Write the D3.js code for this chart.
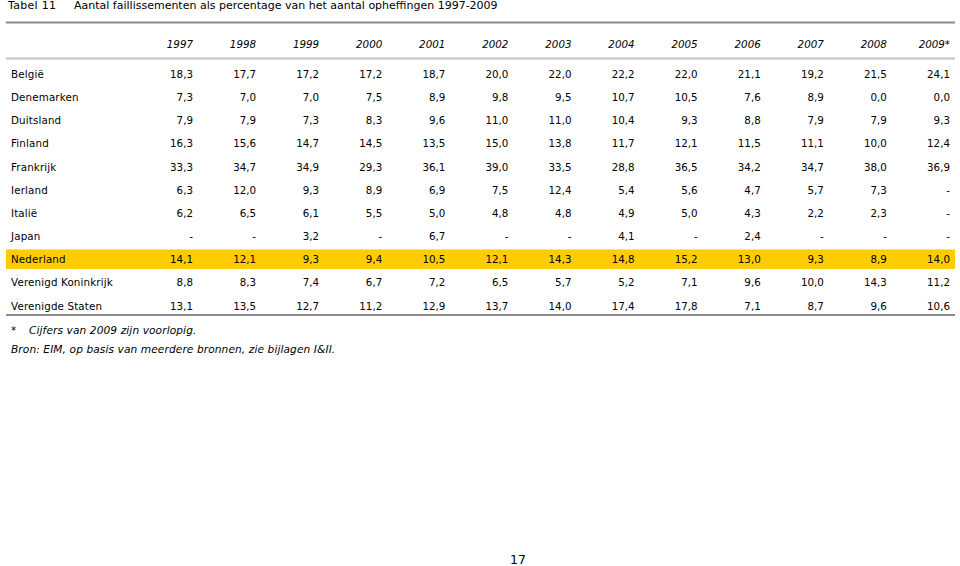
<!DOCTYPE html>
<html><head><meta charset="utf-8">
<script src="https://cdn.jsdelivr.net/npm/d3@7"></script>
<style>
html,body{margin:0;padding:0;background:#fff;}
svg{display:block;}
text{font-family:"DejaVu Sans",Verdana,sans-serif;font-size:10.3px;fill:#000;}
</style></head>
<body>
<svg id="c" width="960" height="566"></svg>
<script>
const tableLabel = "Tabel 11";
const title = "Aantal faillissementen als percentage van het aantal opheffingen 1997-2009";
const years = ["1997","1998","1999","2000","2001","2002","2003","2004","2005","2006","2007","2008","2009*"];
const countries = ["België","Denemarken","Duitsland","Finland","Frankrijk","Ierland","Italië","Japan","Nederland","Verenigd Koninkrijk","Verenigde Staten"];
const belgie     = [18.3,17.7,17.2,17.2,18.7,20.0,22.0,22.2,22.0,21.1,19.2,21.5,24.1];
const denemarken = [7.3,7.0,7.0,7.5,8.9,9.8,9.5,10.7,10.5,7.6,8.9,0.0,0.0];
const duitsland  = [7.9,7.9,7.3,8.3,9.6,11.0,11.0,10.4,9.3,8.8,7.9,7.9,9.3];
const finland    = [16.3,15.6,14.7,14.5,13.5,15.0,13.8,11.7,12.1,11.5,11.1,10.0,12.4];
const frankrijk  = [33.3,34.7,34.9,29.3,36.1,39.0,33.5,28.8,36.5,34.2,34.7,38.0,36.9];
const ierland    = [6.3,12.0,9.3,8.9,6.9,7.5,12.4,5.4,5.6,4.7,5.7,7.3,null];
const italie     = [6.2,6.5,6.1,5.5,5.0,4.8,4.8,4.9,5.0,4.3,2.2,2.3,null];
const japan      = [null,null,3.2,null,6.7,null,null,4.1,null,2.4,null,null,null];
const nederland  = [14.1,12.1,9.3,9.4,10.5,12.1,14.3,14.8,15.2,13.0,9.3,8.9,14.0];
const vk         = [8.8,8.3,7.4,6.7,7.2,6.5,5.7,5.2,7.1,9.6,10.0,14.3,11.2];
const vs         = [13.1,13.5,12.7,11.2,12.9,13.7,14.0,17.4,17.8,7.1,8.7,9.6,10.6];
const highlight = "Nederland";
const footMark = "*";
const footnote = "Cijfers van 2009 zijn voorlopig.";
const source = "Bron: EIM, op basis van meerdere bronnen, zie bijlagen I&II.";
const pageNumber = "17";

const values = [belgie,denemarken,duitsland,finland,frankrijk,ierland,italie,japan,nederland,vk,vs];
const rows = countries.map((c,i)=>({country:c, vals:values[i]}));

const svg = d3.select("#c");
const fmt = v => v==null ? "-" : d3.format(".1f")(v).replace(".", ",");

const x = d3.scalePoint().domain(years).range([193, 950]);
const y = d3.scalePoint().domain(countries).range([74, 305.5]);
const left = 6, right = 955;

// title
svg.append("text").attr("x",8).attr("y",5).attr("dominant-baseline","central").style("font-size","11px").style("letter-spacing","0.3px").text(tableLabel);
svg.append("text").attr("x",74).attr("y",5).attr("dominant-baseline","central").style("font-size","11px").text(title);

// rules
svg.append("line").attr("x1",left).attr("x2",right).attr("y1",22.5).attr("y2",22.5).attr("stroke","#8a8a8a").attr("stroke-width",2);
svg.append("line").attr("x1",left).attr("x2",right).attr("y1",58.5).attr("y2",58.5).attr("stroke","#c4c4c4").attr("stroke-width",2);

// highlight band
const hb = 19.5;
svg.append("rect").attr("x",left).attr("width",right-left)
  .attr("y",y(highlight)-hb/2).attr("height",hb).attr("fill","#FFCC00");

// header
svg.selectAll("text.yr").data(years).join("text").attr("class","yr")
  .attr("x",d=>x(d)).attr("y",44).attr("text-anchor","end").attr("dominant-baseline","central")
  .attr("font-style","italic").text(d=>d);

// rows
const g = svg.selectAll("g.row").data(rows).join("g").attr("class","row")
  .attr("transform",d=>`translate(0,${y(d.country)})`);
g.append("text").attr("x",11).attr("dominant-baseline","central").style("letter-spacing","0.15px").text(d=>d.country);
g.selectAll("text.v").data(d=>d.vals.map((v,i)=>({v,yr:years[i]}))).join("text").attr("class","v")
  .attr("x",d=>x(d.yr)).attr("text-anchor","end").attr("dominant-baseline","central")
  .text(d=>fmt(d.v));

svg.append("line").attr("x1",left).attr("x2",right).attr("y1",315).attr("y2",315).attr("stroke","#666").attr("stroke-width",1.5);

svg.append("text").attr("x",11).attr("y",330).attr("dominant-baseline","central").attr("font-style","italic").text(footMark);
svg.append("text").attr("x",29).attr("y",330).attr("dominant-baseline","central").attr("font-style","italic").style("font-size","10.6px").style("letter-spacing","0.1px").text(footnote);
svg.append("text").attr("x",11).attr("y",349).attr("dominant-baseline","central").attr("font-style","italic").style("font-size","10.6px").style("letter-spacing","0.1px").text(source);

svg.append("text").attr("x",518).attr("y",559).attr("text-anchor","middle").attr("dominant-baseline","central").style("font-size","12.5px").text(pageNumber);
</script>
</body></html>
